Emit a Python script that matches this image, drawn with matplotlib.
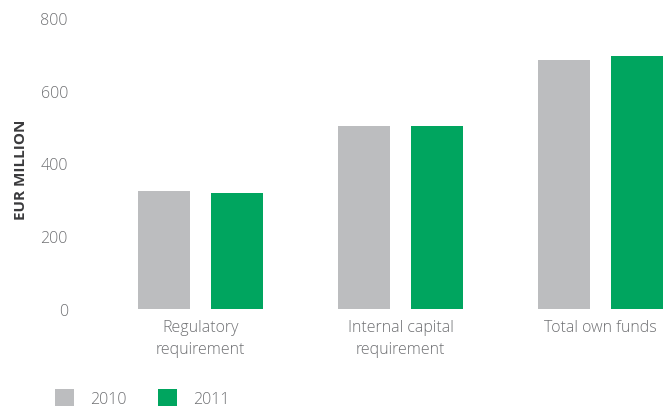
import numpy as np
from matplotlib import pyplot as plt

categories = ["Regulatory\nrequirement", "Internal capital\nrequirement", "Total own funds"]
years = ["2010", "2011"]
values_2010 = [325, 503, 684]
values_2011 = [320, 503, 695]

plt.rcParams['font.family'] = ['Open Sans', 'DejaVu Sans']

fig = plt.figure(figsize=(6.7, 4.1), dpi=100)
ax = fig.add_axes([0.12, 0.244, 0.875, 0.71])

x = np.arange(len(categories))
width = 0.26
off = 0.183
ax.bar(x - off, values_2010, width, color="#BCBDBF", label=years[0])
ax.bar(x + off, values_2011, width, color="#00A55F", label=years[1])

ax.set_xlim(-0.6, 2.33)
ax.set_ylim(0, 800)
ax.set_yticks([0, 200, 400, 600, 800])
ax.set_xticks(x)
ax.set_xticklabels(categories, linespacing=1.55)
for s in ax.spines.values():
    s.set_visible(False)
ax.tick_params(length=0, labelsize=11.5, labelcolor="#6f7073")
ax.tick_params(axis="y", pad=9)
ax.tick_params(axis="x", pad=7)
for lbl in ax.get_xticklabels() + ax.get_yticklabels():
    lbl.set_fontweight("light")

fig.text(0.032, 0.585, "EUR MILLION", rotation=90, fontsize=11, fontweight="bold",
         color="#3a3a3c", ha="center", va="center")

leg = fig.legend(loc="lower left", bbox_to_anchor=(0.06, -0.03), ncol=2, frameon=False,
                 handlelength=1.2, handleheight=1.25, handletextpad=1.0, columnspacing=2.0,
                 prop={"size": 11.5, "weight": "light"}, labelcolor="#6f7073")

fig.savefig("out.png", dpi=100)
